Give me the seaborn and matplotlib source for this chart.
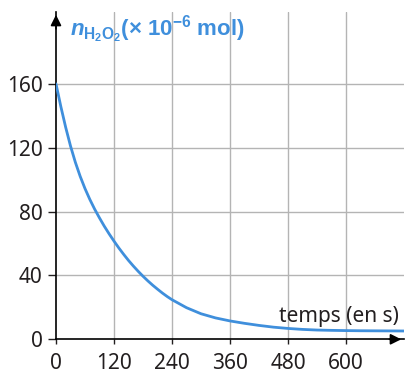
import matplotlib
matplotlib.use("Agg")
import matplotlib.pyplot as plt
import seaborn as sns
import pandas as pd

# values
temps = [0, 10, 20, 30, 40, 50, 60, 70, 80, 90, 100, 110, 120, 130, 140, 150,
         160, 170, 180, 190, 200, 210, 220, 230, 240, 270, 300, 330, 360, 390,
         420, 450, 480, 510, 540, 570, 600, 630, 660, 690, 720]
n_h2o2 = [160, 145.8, 132.8, 121.1, 110.9, 102.1, 94.4, 87.6, 81.5, 76.0,
          70.8, 66.0, 61.5, 57.2, 53.2, 49.4, 45.9, 42.6, 39.5, 36.6, 33.9,
          31.4, 29.0, 26.8, 24.8, 19.8, 16.0, 13.4, 11.5, 10.0, 8.7, 7.6, 6.8,
          6.2, 5.8, 5.6, 5.45, 5.35, 5.3, 5.25, 5.2]
x_ticks = [0, 120, 240, 360, 480, 600]
y_ticks = [0, 40, 80, 120, 160]

blue = "#3f8fdc"
grey = "#b4b4b4"
ink = "#231f20"

sns.set_theme(style="white")
plt.rcParams["font.family"] = ["Noto Sans", "DejaVu Sans"]
# bold face for the quantity label (Noto Sans has no bold here)
plt.rcParams["mathtext.fontset"] = "custom"
plt.rcParams["mathtext.rm"] = "Liberation Sans:bold"
plt.rcParams["mathtext.bf"] = "Liberation Sans:bold"
plt.rcParams["mathtext.it"] = "Liberation Sans:italic:bold"

df = pd.DataFrame({"temps": temps, "n": n_h2o2})

fig = plt.figure(figsize=(4.06, 3.72), dpi=100)
ax = fig.add_axes([56 / 406, 32.7 / 372, 348 / 406, 327.3 / 372])

# grid
for x in x_ticks[1:]:
    ax.axvline(x, color=grey, lw=1.0, zorder=1)
for y in y_ticks[1:]:
    ax.axhline(y, color=grey, lw=1.0, zorder=1)

sns.lineplot(data=df, x="temps", y="n", color=blue, lw=2.0, ax=ax, zorder=3)

ax.set_xlim(0, 720)
ax.set_ylim(0, 205)
ax.set_xticks(x_ticks)
ax.set_yticks(y_ticks)
ax.set_xlabel("")
ax.set_ylabel("")
ax.tick_params(axis="y", length=5.5, width=1, color=ink, pad=4,
               labelsize=15, labelcolor=ink, left=True)
ax.tick_params(axis="x", length=3.5, width=1, color=ink, pad=6.5,
               labelsize=15, labelcolor=ink, bottom=True)

for side in ["top", "right"]:
    ax.spines[side].set_visible(False)
for side in ["left", "bottom"]:
    ax.spines[side].set_color("black")
    ax.spines[side].set_linewidth(1.2)

# arrow heads on the axes
ax.annotate("", xy=(0, 1), xytext=(0, 0.94), xycoords="axes fraction",
            arrowprops=dict(arrowstyle="-|>", color="black", lw=1.2,
                            mutation_scale=16), annotation_clip=False)
ax.annotate("", xy=(1, 0), xytext=(0.95, 0), xycoords="axes fraction",
            arrowprops=dict(arrowstyle="-|>", color="black", lw=1.2,
                            mutation_scale=16), annotation_clip=False)

ax.text(29, 190, r"$\mathit{n}_{\mathrm{H_2O_2}}$(× 10$^{-6}$ mol)",
        color=blue, fontsize=16, fontweight="bold", ha="left", va="baseline",
        family=["Liberation Sans", "DejaVu Sans"])
ax.text(710, 11, "temps (en s)", color=ink, fontsize=15, ha="right", va="baseline")

fig.savefig("out.png", dpi=100)
